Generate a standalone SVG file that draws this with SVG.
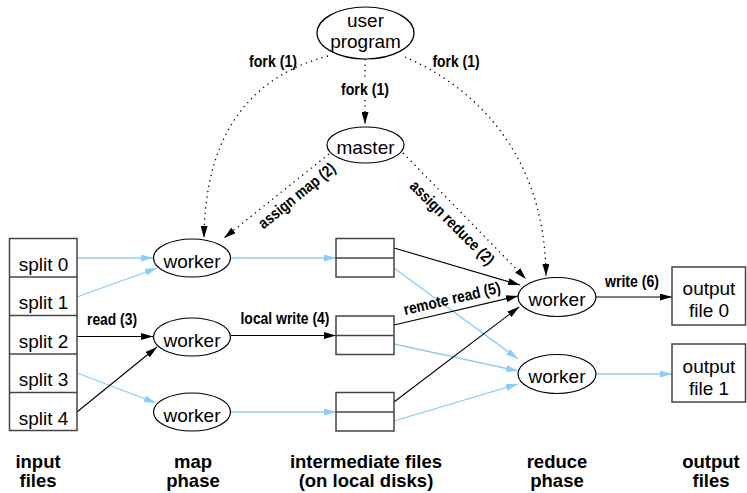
<svg xmlns="http://www.w3.org/2000/svg" width="747" height="493" viewBox="0 0 747 493">
<style>
.t{font-family:"Liberation Sans",Arial,Helvetica,sans-serif;font-size:19px;fill:#000;text-anchor:middle}
.b{font-family:"Liberation Sans",Arial,Helvetica,sans-serif;font-weight:bold;font-size:16px;fill:#000;text-anchor:middle}
.h{font-family:"Liberation Sans",Arial,Helvetica,sans-serif;font-weight:bold;font-size:18.5px;fill:#000;text-anchor:middle}
.el{fill:#fff;stroke:#000;stroke-width:1.2}
.bx{fill:#fff;stroke:#444;stroke-width:1.5}
.bk{fill:none;stroke:#000;stroke-width:1.1;marker-end:url(#ab)}
.bl{fill:none;stroke:#87cefa;stroke-width:1.3;marker-end:url(#al)}
.dt{fill:none;stroke:#000;stroke-width:1.3;stroke-dasharray:1.3 4.2}
.dta{marker-end:url(#ab)}
</style>
<defs>
<marker id="ab" viewBox="0 0 12 7" refX="12" refY="3.5" markerWidth="12" markerHeight="7" markerUnits="userSpaceOnUse" orient="auto"><path d="M0,0 L12,3.5 L0,7 z" fill="#000"/></marker>
<marker id="al" viewBox="0 0 12 7" refX="12" refY="3.5" markerWidth="12" markerHeight="7" markerUnits="userSpaceOnUse" orient="auto"><path d="M0,0 L12,3.5 L0,7 z" fill="#87cefa"/></marker>
</defs>

<g id="connectors">
  <path class="dt dta" d="M328,56 C252,76 205,132 204,238"/>
  <path class="dt" d="M365,59 L365,79"/>
  <path class="dt dta" d="M365,100 L365,124"/>
  <path class="dt dta" d="M405,57 C470,85 545,150 546,276"/>
  <path class="dt dta" d="M329,154 L224,238"/>
  <path class="dt dta" d="M403,153 L526,279"/>
  <path class="bl" d="M77,258 L153,258"/>
  <path class="bl" d="M77,297 L157,268"/>
  <path class="bk" d="M77,336.5 L153,336.5"/>
  <path class="bl" d="M77,373 L156,403"/>
  <path class="bk" d="M77,412 L157,347"/>
  <path class="bl" d="M231,258 L336,258"/>
  <path class="bk" d="M231,335.5 L336,335.5"/>
  <path class="bl" d="M231,412 L336,412"/>
  <path class="bk" d="M394,248 L520,285"/>
  <path class="bl" d="M394,268 L518,359"/>
  <path class="bk" d="M394,325 L518,296"/>
  <path class="bl" d="M394,344 L518,371"/>
  <path class="bk" d="M394,402 L519,307"/>
  <path class="bl" d="M394,421 L518,384"/>
  <path class="bk" d="M596,297 L672,297"/>
  <path class="bl" d="M596,374 L672,374"/>
  <text class="b" x="273" y="67" textLength="48" lengthAdjust="spacingAndGlyphs">fork (1)</text>
  <text class="b" x="365" y="95" textLength="48" lengthAdjust="spacingAndGlyphs">fork (1)</text>
  <text class="b" x="456" y="67" textLength="47" lengthAdjust="spacingAndGlyphs">fork (1)</text>
  <text class="b" transform="translate(297,196) rotate(-39)" x="0" y="5" textLength="94" lengthAdjust="spacingAndGlyphs">assign map (2)</text>
  <text class="b" transform="translate(452,223) rotate(45)" x="0" y="5" textLength="112" lengthAdjust="spacingAndGlyphs">assign reduce (2)</text>
  <text class="b" x="112" y="325" textLength="50" lengthAdjust="spacingAndGlyphs">read (3)</text>
  <text class="b" x="285" y="324" textLength="89" lengthAdjust="spacingAndGlyphs">local write (4)</text>
  <text class="b" transform="translate(452,299) rotate(-13.3)" x="0" y="5" textLength="99" lengthAdjust="spacingAndGlyphs">remote read (5)</text>
  <text class="b" x="632" y="287" textLength="54" lengthAdjust="spacingAndGlyphs">write (6)</text>
</g>

<g id="user-program">
  <ellipse class="el" cx="365.5" cy="33" rx="48.5" ry="26"/>
  <text class="t" x="365.5" y="27">user</text>
  <text class="t" x="365.5" y="48">program</text>
</g>
<g id="master">
  <ellipse class="el" cx="365.5" cy="145" rx="38.5" ry="18"/>
  <text class="t" x="365.5" y="154">master</text>
</g>

<g id="input-files">
  <rect class="bx" x="9.5" y="238.5" width="67.5" height="192"/>
  <line class="bx" x1="9.5" y1="277" x2="77" y2="277"/>
  <line class="bx" x1="9.5" y1="315.5" x2="77" y2="315.5"/>
  <line class="bx" x1="9.5" y1="354" x2="77" y2="354"/>
  <line class="bx" x1="9.5" y1="392.5" x2="77" y2="392.5"/>
  <text class="t" x="43.5" y="270.5">split 0</text>
  <text class="t" x="43.5" y="309">split 1</text>
  <text class="t" x="43.5" y="347.5">split 2</text>
  <text class="t" x="43.5" y="386">split 3</text>
  <text class="t" x="43.5" y="424.5">split 4</text>
</g>

<g id="map-worker-0">
  <ellipse class="el" cx="192" cy="258" rx="38.5" ry="19"/>
  <text class="t" x="192" y="268">worker</text>
</g>
<g id="map-worker-1">
  <ellipse class="el" cx="192" cy="337" rx="38.5" ry="19"/>
  <text class="t" x="192" y="347">worker</text>
</g>
<g id="map-worker-2">
  <ellipse class="el" cx="192" cy="412" rx="38.5" ry="19"/>
  <text class="t" x="192" y="422">worker</text>
</g>

<g id="intermediate-0">
  <rect class="bx" x="336" y="238.5" width="58" height="38.5"/>
  <line class="bx" x1="336" y1="258" x2="394" y2="258"/>
</g>
<g id="intermediate-1">
  <rect class="bx" x="336" y="316" width="58" height="38.5"/>
  <line class="bx" x1="336" y1="335.5" x2="394" y2="335.5"/>
</g>
<g id="intermediate-2">
  <rect class="bx" x="336" y="392.5" width="58" height="38.5"/>
  <line class="bx" x1="336" y1="412" x2="394" y2="412"/>
</g>

<g id="reduce-worker-0">
  <ellipse class="el" cx="557" cy="297" rx="39" ry="19.5"/>
  <text class="t" x="557" y="306">worker</text>
</g>
<g id="reduce-worker-1">
  <ellipse class="el" cx="557" cy="374" rx="39" ry="19.5"/>
  <text class="t" x="557" y="383">worker</text>
</g>

<g id="output-0">
  <rect class="bx" x="672" y="267" width="73.5" height="58"/>
  <text class="t" x="709" y="295">output</text>
  <text class="t" x="709" y="317">file 0</text>
</g>
<g id="output-1">
  <rect class="bx" x="672" y="344" width="73.5" height="58"/>
  <text class="t" x="709" y="372.5">output</text>
  <text class="t" x="709" y="394.5">file 1</text>
</g>

<g id="phase-labels">
  <text class="h" x="38" y="468">input</text>
  <text class="h" x="38" y="487">files</text>
  <text class="h" x="193" y="468">map</text>
  <text class="h" x="193" y="487">phase</text>
  <text class="h" x="366" y="468">intermediate files</text>
  <text class="h" x="366" y="487">(on local disks)</text>
  <text class="h" x="557" y="468">reduce</text>
  <text class="h" x="557" y="487">phase</text>
  <text class="h" x="711" y="468">output</text>
  <text class="h" x="711" y="487">files</text>
</g>
</svg>
